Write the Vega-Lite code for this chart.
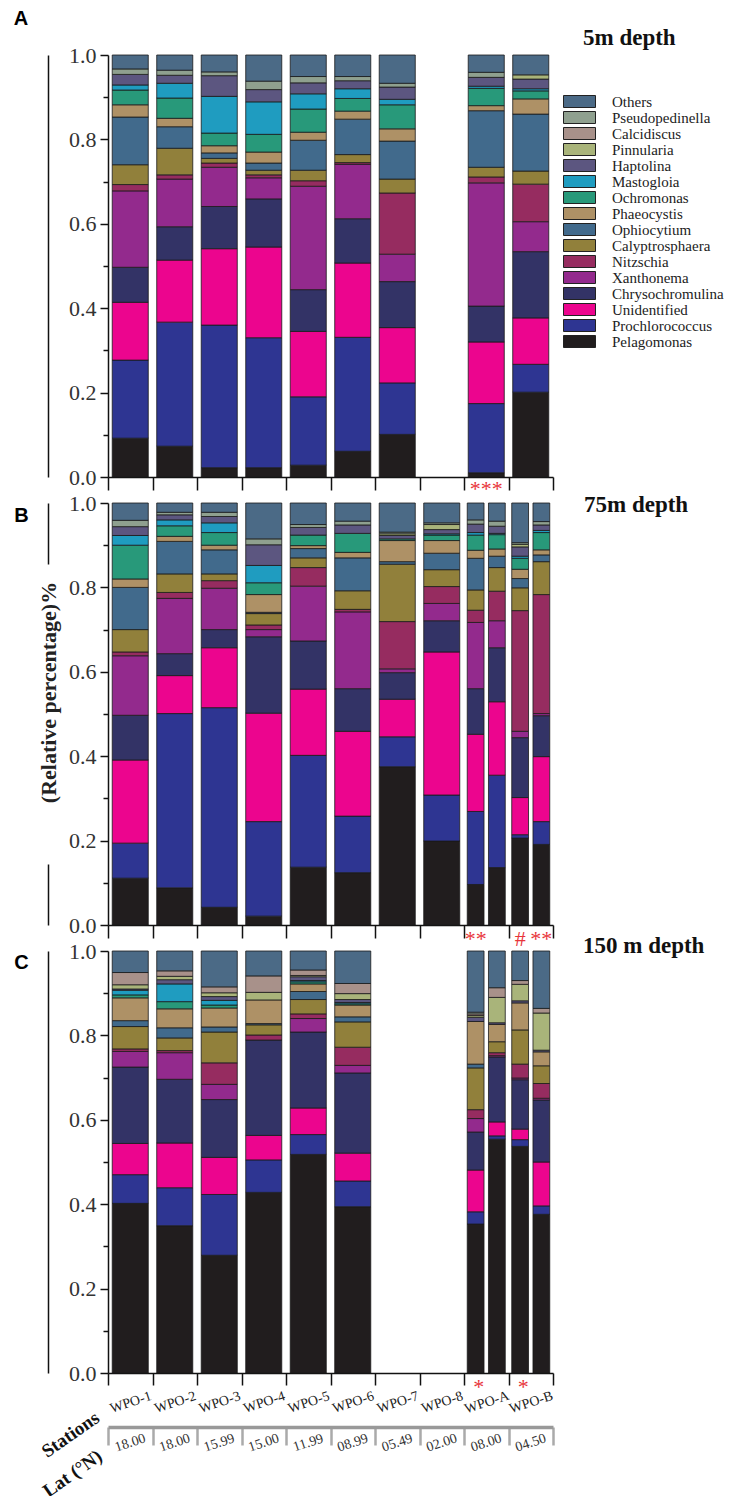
{
"$schema": "https://vega.github.io/schema/vega-lite/v6.json",
"background": "white",
"padding": {"left": 13, "top": 8, "right": 2, "bottom": 0},
"config": {"view": {"stroke": null}, "font": "Liberation Serif", "axis": {"grid": false}},
"spacing": 26,
"bounds": "flush",
"resolve": {"legend": {"color": "independent"}},
"datasets": {
"d5": [
{"station":"WPO-1","rep":0,"Pelagomonas":0.092,"Prochlorococcus":0.185,"Unidentified":0.137,"Chrysochromulina":0.083,"Xanthonema":0.181,"Nitzschia":0.015,"Calyptrosphaera":0.047,"Ophiocytium":0.113,"Phaeocystis":0.029,"Ochromonas":0.035,"Mastogloia":0.012,"Haptolina":0.025,"Pseudopedinella":0.013,"Others":0.033},
{"station":"WPO-2","rep":0,"Pelagomonas":0.073,"Prochlorococcus":0.294,"Unidentified":0.147,"Chrysochromulina":0.079,"Xanthonema":0.113,"Nitzschia":0.010,"Calyptrosphaera":0.063,"Ophiocytium":0.051,"Phaeocystis":0.020,"Ochromonas":0.048,"Mastogloia":0.035,"Haptolina":0.019,"Pseudopedinella":0.012,"Others":0.036},
{"station":"WPO-3","rep":0,"Pelagomonas":0.022,"Prochlorococcus":0.338,"Unidentified":0.181,"Chrysochromulina":0.100,"Xanthonema":0.093,"Nitzschia":0.010,"Calyptrosphaera":0.011,"Ophiocytium":0.013,"Phaeocystis":0.017,"Ochromonas":0.030,"Mastogloia":0.087,"Haptolina":0.049,"Pseudopedinella":0.009,"Others":0.040},
{"station":"WPO-4","rep":0,"Pelagomonas":0.022,"Prochlorococcus":0.308,"Unidentified":0.215,"Chrysochromulina":0.114,"Xanthonema":0.050,"Nitzschia":0.007,"Calyptrosphaera":0.011,"Ophiocytium":0.017,"Phaeocystis":0.026,"Ochromonas":0.042,"Mastogloia":0.077,"Haptolina":0.029,"Pseudopedinella":0.020,"Others":0.062},
{"station":"WPO-5","rep":0,"Pelagomonas":0.028,"Prochlorococcus":0.162,"Unidentified":0.155,"Chrysochromulina":0.099,"Xanthonema":0.245,"Nitzschia":0.013,"Calyptrosphaera":0.025,"Ophiocytium":0.071,"Phaeocystis":0.019,"Ochromonas":0.055,"Mastogloia":0.036,"Haptolina":0.026,"Pseudopedinella":0.015,"Others":0.051},
{"station":"WPO-6","rep":0,"Pelagomonas":0.061,"Prochlorococcus":0.270,"Unidentified":0.176,"Chrysochromulina":0.105,"Xanthonema":0.129,"Nitzschia":0.004,"Calyptrosphaera":0.019,"Ophiocytium":0.084,"Phaeocystis":0.019,"Ochromonas":0.030,"Mastogloia":0.023,"Haptolina":0.019,"Pseudopedinella":0.010,"Others":0.051},
{"station":"WPO-7","rep":0,"Pelagomonas":0.101,"Prochlorococcus":0.122,"Unidentified":0.131,"Chrysochromulina":0.109,"Xanthonema":0.065,"Nitzschia":0.145,"Calyptrosphaera":0.033,"Ophiocytium":0.090,"Phaeocystis":0.029,"Ochromonas":0.057,"Mastogloia":0.013,"Haptolina":0.029,"Pseudopedinella":0.009,"Others":0.067},
{"station":"WPO-A","rep":0,"Pelagomonas":0.010,"Prochlorococcus":0.164,"Unidentified":0.146,"Chrysochromulina":0.085,"Xanthonema":0.292,"Nitzschia":0.014,"Calyptrosphaera":0.023,"Ophiocytium":0.134,"Phaeocystis":0.012,"Ochromonas":0.041,"Mastogloia":0.005,"Haptolina":0.021,"Pseudopedinella":0.012,"Others":0.041},
{"station":"WPO-B","rep":0,"Pelagomonas":0.201,"Prochlorococcus":0.066,"Unidentified":0.110,"Chrysochromulina":0.157,"Xanthonema":0.071,"Nitzschia":0.089,"Calyptrosphaera":0.031,"Ophiocytium":0.135,"Phaeocystis":0.036,"Ochromonas":0.019,"Mastogloia":0.005,"Haptolina":0.023,"Pinnularia":0.010,"Others":0.047}
],
"d75": [
{"station":"WPO-1","rep":0,"Pelagomonas":0.111,"Prochlorococcus":0.083,"Unidentified":0.197,"Chrysochromulina":0.106,"Xanthonema":0.141,"Nitzschia":0.009,"Calyptrosphaera":0.053,"Ophiocytium":0.100,"Phaeocystis":0.020,"Ochromonas":0.080,"Mastogloia":0.023,"Haptolina":0.021,"Pseudopedinella":0.015,"Others":0.041},
{"station":"WPO-2","rep":0,"Pelagomonas":0.088,"Prochlorococcus":0.413,"Unidentified":0.090,"Chrysochromulina":0.052,"Xanthonema":0.131,"Nitzschia":0.014,"Calyptrosphaera":0.044,"Ophiocytium":0.077,"Phaeocystis":0.012,"Ochromonas":0.025,"Mastogloia":0.014,"Haptolina":0.012,"Pseudopedinella":0.006,"Others":0.022},
{"station":"WPO-3","rep":0,"Pelagomonas":0.042,"Prochlorococcus":0.473,"Unidentified":0.142,"Chrysochromulina":0.043,"Xanthonema":0.098,"Nitzschia":0.018,"Calyptrosphaera":0.016,"Ophiocytium":0.057,"Phaeocystis":0.011,"Ochromonas":0.030,"Mastogloia":0.023,"Haptolina":0.015,"Pseudopedinella":0.010,"Others":0.022},
{"station":"WPO-4","rep":0,"Pelagomonas":0.021,"Prochlorococcus":0.224,"Unidentified":0.257,"Chrysochromulina":0.181,"Xanthonema":0.017,"Nitzschia":0.011,"Calyptrosphaera":0.027,"Ophiocytium":0.003,"Phaeocystis":0.042,"Ochromonas":0.028,"Mastogloia":0.041,"Haptolina":0.049,"Pseudopedinella":0.014,"Others":0.085},
{"station":"WPO-5","rep":0,"Pelagomonas":0.137,"Prochlorococcus":0.265,"Unidentified":0.157,"Chrysochromulina":0.114,"Xanthonema":0.130,"Nitzschia":0.044,"Calyptrosphaera":0.023,"Ophiocytium":0.022,"Phaeocystis":0.007,"Ochromonas":0.025,"Haptolina":0.018,"Pseudopedinella":0.007,"Others":0.051},
{"station":"WPO-6","rep":0,"Pelagomonas":0.124,"Prochlorococcus":0.134,"Unidentified":0.201,"Chrysochromulina":0.101,"Xanthonema":0.182,"Nitzschia":0.006,"Calyptrosphaera":0.044,"Ophiocytium":0.078,"Phaeocystis":0.013,"Ochromonas":0.045,"Haptolina":0.020,"Pseudopedinella":0.009,"Others":0.043},
{"station":"WPO-7","rep":0,"Pelagomonas":0.375,"Prochlorococcus":0.071,"Unidentified":0.089,"Chrysochromulina":0.063,"Xanthonema":0.009,"Nitzschia":0.112,"Calyptrosphaera":0.136,"Ophiocytium":0.006,"Phaeocystis":0.050,"Ochromonas":0.004,"Haptolina":0.008,"Pinnularia":0.004,"Pseudopedinella":0.004,"Others":0.069},
{"station":"WPO-8","rep":0,"Pelagomonas":0.199,"Prochlorococcus":0.109,"Unidentified":0.339,"Chrysochromulina":0.074,"Xanthonema":0.041,"Nitzschia":0.040,"Calyptrosphaera":0.040,"Ophiocytium":0.039,"Phaeocystis":0.030,"Ochromonas":0.013,"Mastogloia":0.003,"Haptolina":0.010,"Pinnularia":0.012,"Pseudopedinella":0.004,"Others":0.047},
{"station":"WPO-A","rep":1,"Pelagomonas":0.096,"Prochlorococcus":0.173,"Unidentified":0.183,"Chrysochromulina":0.108,"Xanthonema":0.157,"Nitzschia":0.029,"Calyptrosphaera":0.048,"Ophiocytium":0.075,"Phaeocystis":0.019,"Ochromonas":0.036,"Mastogloia":0.006,"Haptolina":0.020,"Pseudopedinella":0.010,"Others":0.040},
{"station":"WPO-A","rep":2,"Pelagomonas":0.136,"Prochlorococcus":0.219,"Unidentified":0.174,"Chrysochromulina":0.128,"Xanthonema":0.064,"Nitzschia":0.070,"Calyptrosphaera":0.056,"Ophiocytium":0.027,"Phaeocystis":0.017,"Ochromonas":0.034,"Mastogloia":0.003,"Haptolina":0.017,"Pseudopedinella":0.012,"Others":0.043},
{"station":"WPO-B","rep":1,"Pelagomonas":0.206,"Prochlorococcus":0.008,"Unidentified":0.088,"Chrysochromulina":0.142,"Xanthonema":0.015,"Nitzschia":0.286,"Calyptrosphaera":0.054,"Ophiocytium":0.022,"Phaeocystis":0.022,"Ochromonas":0.026,"Mastogloia":0.005,"Haptolina":0.022,"Pinnularia":0.006,"Pseudopedinella":0.004,"Others":0.094},
{"station":"WPO-B","rep":2,"Pelagomonas":0.191,"Prochlorococcus":0.054,"Unidentified":0.154,"Chrysochromulina":0.097,"Xanthonema":0.005,"Nitzschia":0.282,"Calyptrosphaera":0.078,"Ophiocytium":0.016,"Phaeocystis":0.012,"Ochromonas":0.041,"Mastogloia":0.005,"Haptolina":0.013,"Pseudopedinella":0.008,"Others":0.044}
],
"d150": [
{"station":"WPO-1","rep":0,"Pelagomonas":0.402,"Prochlorococcus":0.068,"Unidentified":0.074,"Chrysochromulina":0.181,"Xanthonema":0.037,"Nitzschia":0.006,"Calyptrosphaera":0.053,"Ophiocytium":0.014,"Phaeocystis":0.054,"Ochromonas":0.007,"Mastogloia":0.011,"Haptolina":0.003,"Pinnularia":0.010,"Calcidiscus":0.029,"Others":0.051},
{"station":"WPO-2","rep":0,"Pelagomonas":0.349,"Prochlorococcus":0.090,"Unidentified":0.106,"Chrysochromulina":0.151,"Xanthonema":0.063,"Nitzschia":0.005,"Calyptrosphaera":0.030,"Ophiocytium":0.024,"Phaeocystis":0.045,"Ochromonas":0.017,"Mastogloia":0.042,"Haptolina":0.010,"Pinnularia":0.008,"Calcidiscus":0.013,"Others":0.047},
{"station":"WPO-3","rep":0,"Pelagomonas":0.279,"Prochlorococcus":0.144,"Unidentified":0.088,"Chrysochromulina":0.137,"Xanthonema":0.036,"Nitzschia":0.051,"Calyptrosphaera":0.073,"Ophiocytium":0.012,"Phaeocystis":0.045,"Ochromonas":0.007,"Mastogloia":0.011,"Haptolina":0.009,"Pinnularia":0.009,"Calcidiscus":0.014,"Others":0.085},
{"station":"WPO-4","rep":0,"Pelagomonas":0.428,"Prochlorococcus":0.077,"Unidentified":0.058,"Chrysochromulina":0.226,"Nitzschia":0.012,"Calyptrosphaera":0.024,"Ophiocytium":0.003,"Phaeocystis":0.056,"Pinnularia":0.018,"Calcidiscus":0.039,"Others":0.059},
{"station":"WPO-5","rep":0,"Pelagomonas":0.518,"Prochlorococcus":0.047,"Unidentified":0.063,"Chrysochromulina":0.180,"Xanthonema":0.032,"Nitzschia":0.011,"Calyptrosphaera":0.034,"Ophiocytium":0.019,"Phaeocystis":0.018,"Ochromonas":0.005,"Mastogloia":0.003,"Haptolina":0.009,"Pinnularia":0.003,"Calcidiscus":0.013,"Others":0.045},
{"station":"WPO-6","rep":0,"Pelagomonas":0.394,"Prochlorococcus":0.061,"Unidentified":0.066,"Chrysochromulina":0.190,"Xanthonema":0.018,"Nitzschia":0.043,"Calyptrosphaera":0.060,"Ophiocytium":0.012,"Phaeocystis":0.028,"Ochromonas":0.003,"Mastogloia":0.003,"Haptolina":0.007,"Pinnularia":0.014,"Calcidiscus":0.024,"Others":0.077},
{"station":"WPO-A","rep":1,"Pelagomonas":0.353,"Prochlorococcus":0.029,"Unidentified":0.099,"Chrysochromulina":0.090,"Xanthonema":0.032,"Nitzschia":0.021,"Calyptrosphaera":0.099,"Ophiocytium":0.009,"Phaeocystis":0.101,"Haptolina":0.010,"Pinnularia":0.004,"Calcidiscus":0.004,"Pseudopedinella":0.004,"Others":0.145},
{"station":"WPO-A","rep":2,"Pelagomonas":0.554,"Prochlorococcus":0.008,"Unidentified":0.033,"Chrysochromulina":0.154,"Xanthonema":0.003,"Nitzschia":0.007,"Calyptrosphaera":0.026,"Phaeocystis":0.041,"Haptolina":0.004,"Pinnularia":0.060,"Calcidiscus":0.023,"Others":0.087},
{"station":"WPO-B","rep":1,"Pelagomonas":0.537,"Prochlorococcus":0.016,"Unidentified":0.025,"Chrysochromulina":0.117,"Xanthonema":0.004,"Nitzschia":0.033,"Calyptrosphaera":0.081,"Phaeocystis":0.064,"Haptolina":0.005,"Pinnularia":0.039,"Calcidiscus":0.009,"Others":0.070},
{"station":"WPO-B","rep":2,"Pelagomonas":0.376,"Prochlorococcus":0.020,"Unidentified":0.104,"Chrysochromulina":0.147,"Xanthonema":0.004,"Nitzschia":0.035,"Calyptrosphaera":0.042,"Phaeocystis":0.033,"Haptolina":0.004,"Pinnularia":0.088,"Calcidiscus":0.011,"Others":0.136}
]
},
"vconcat": [
{
"width": 445, "height": 422,
"title": {"text": "5m depth", "anchor": "start", "frame": "group", "dx": 475, "dy": 41.5, "offset": 0, "font": "Liberation Serif", "fontSize": 23, "fontWeight": "bold", "color": "#111"},
"layer": [
{
"data": {"name": "d5"},
"transform": [
{"fold": ["Pelagomonas","Prochlorococcus","Unidentified","Chrysochromulina","Xanthonema","Nitzschia","Calyptrosphaera","Ophiocytium","Phaeocystis","Ochromonas","Mastogloia","Haptolina","Pinnularia","Calcidiscus","Pseudopedinella","Others"], "as": ["taxon","value"]},
{"filter": "datum.value > 0"},
{"window": [{"op": "row_number", "as": "layer"}], "groupby": ["station", "rep"]}
],
"mark": {"type": "bar", "stroke": "#1a1a1a", "strokeWidth": 0.8, "width": {"band": 0.81}},
"encoding": {
"x": {"field": "station", "type": "nominal", "scale": {"domain": ["WPO-1","WPO-2","WPO-3","WPO-4","WPO-5","WPO-6","WPO-7","WPO-8","WPO-A","WPO-B"], "paddingInner": 0, "paddingOuter": 0},
 "axis": {"title": null, "labels": false, "tickBand": "extent", "tickSize": 13, "tickWidth": 1.5, "tickColor": "#111", "domainColor": "#111", "domainWidth": 1.5}},
"y": {"field": "value", "type": "quantitative", "stack": "zero", "scale": {"domain": [0, 1], "nice": false},
 "axis": {"values": [0,0.1,0.2,0.3,0.4,0.5,0.6,0.7,0.8,0.9,1], "labelExpr": "round(datum.value*10) % 2 == 0 ? format(datum.value, '.1f') : ''", "labelFont": "Liberation Serif", "labelFontSize": 22, "labelColor": "#333", "labelPadding": 4, "tickSize": {"condition": {"test": "round(datum.value*10) % 2 == 0", "value": 8}, "value": 5}, "tickWidth": 1.5, "tickColor": "#111", "domainColor": "#111", "domainWidth": 1.5,
  "title": "A", "titleFont": "Liberation Sans", "titleFontSize": 20, "titleFontWeight": "bold", "titleColor": "#000", "titleAngle": 0, "titleAlign": "center", "titleBaseline": "alphabetic", "titleX": -87.5, "titleY": -30.5}},
"order": {"field": "layer", "type": "quantitative"},
"color": {"field": "taxon", "type": "nominal",
 "scale": {"domain": ["Others","Pseudopedinella","Calcidiscus","Pinnularia","Haptolina","Mastogloia","Ochromonas","Phaeocystis","Ophiocytium","Calyptrosphaera","Nitzschia","Xanthonema","Chrysochromulina","Unidentified","Prochlorococcus","Pelagomonas"],
  "range": ["#4b6a86","#8fa08f","#a8918a","#a9b47a","#5c5680","#1f9cc0","#28997a","#ae9166","#416a8c","#91803b","#962c60","#932a8d","#333366","#ec058e","#2e3592","#211d1e"]},
 "legend": {"orient": "none", "legendX": 464, "legendY": 39, "title": null, "symbolType": "M-3.2,-1.2H3.2V1.2H-3.2Z", "symbolSize": 100, "symbolStrokeColor": "#222", "symbolStrokeWidth": 1, "symbolOpacity": 1, "labelFont": "Liberation Serif", "labelFontSize": 15, "labelColor": "#222", "labelOffset": 25, "rowPadding": -4, "labelLimit": 300}}
}
},
{
"data": {"values": [{"station": "WPO-A", "note": "***"}]},
"mark": {"type": "text", "color": "#e8343a", "font": "Liberation Serif", "fontSize": 22, "baseline": "top", "align": "center", "dy": 2},
"encoding": {
"x": {"field": "station", "type": "nominal", "axis": null},
"y": {"datum": 0, "type": "quantitative", "axis": {"orient": "left", "offset": 60, "domain": true, "domainColor": "#111", "domainWidth": 1.5, "ticks": false, "labels": false, "title": null}},
"text": {"field": "note"}
}
}
],
"resolve": {"axis": {"x": "independent", "y": "independent"}}
},
{
"width": 445, "height": 422,
"title": {"text": "75m depth", "anchor": "start", "frame": "group", "dx": 476, "dy": 25, "offset": 0, "font": "Liberation Serif", "fontSize": 23, "fontWeight": "bold", "color": "#111"},
"layer": [
{
"data": {"name": "d75"},
"transform": [
{"fold": ["Pelagomonas","Prochlorococcus","Unidentified","Chrysochromulina","Xanthonema","Nitzschia","Calyptrosphaera","Ophiocytium","Phaeocystis","Ochromonas","Mastogloia","Haptolina","Pinnularia","Calcidiscus","Pseudopedinella","Others"], "as": ["taxon","value"]},
{"filter": "datum.value > 0"},
{"filter": "datum.rep == 0"},
{"window": [{"op": "row_number", "as": "layer"}], "groupby": ["station", "rep"]}
],
"mark": {"type": "bar", "stroke": "#1a1a1a", "strokeWidth": 0.8, "width": {"band": 0.81}},
"encoding": {
"x": {"field": "station", "type": "nominal", "scale": {"domain": ["WPO-1","WPO-2","WPO-3","WPO-4","WPO-5","WPO-6","WPO-7","WPO-8","WPO-A","WPO-B"], "paddingInner": 0, "paddingOuter": 0},
 "axis": {"title": null, "labels": false, "tickBand": "extent", "tickSize": 13, "tickWidth": 1.5, "tickColor": "#111", "domainColor": "#111", "domainWidth": 1.5}},
"y": {"field": "value", "type": "quantitative", "stack": "zero", "scale": {"domain": [0, 1], "nice": false},
 "axis": {"values": [0,0.1,0.2,0.3,0.4,0.5,0.6,0.7,0.8,0.9,1], "labelExpr": "round(datum.value*10) % 2 == 0 ? format(datum.value, '.1f') : ''", "labelFont": "Liberation Serif", "labelFontSize": 22, "labelColor": "#333", "labelPadding": 4, "tickSize": {"condition": {"test": "round(datum.value*10) % 2 == 0", "value": 8}, "value": 5}, "tickWidth": 1.5, "tickColor": "#111", "domainColor": "#111", "domainWidth": 1.5,
  "title": "B", "titleFont": "Liberation Sans", "titleFontSize": 20, "titleFontWeight": "bold", "titleColor": "#000", "titleAngle": 0, "titleAlign": "center", "titleBaseline": "alphabetic", "titleX": -87, "titleY": 18}},
"order": {"field": "layer", "type": "quantitative"},
"color": {"field": "taxon", "type": "nominal",
 "scale": {"domain": ["Others","Pseudopedinella","Calcidiscus","Pinnularia","Haptolina","Mastogloia","Ochromonas","Phaeocystis","Ophiocytium","Calyptrosphaera","Nitzschia","Xanthonema","Chrysochromulina","Unidentified","Prochlorococcus","Pelagomonas"],
  "range": ["#4b6a86","#8fa08f","#a8918a","#a9b47a","#5c5680","#1f9cc0","#28997a","#ae9166","#416a8c","#91803b","#962c60","#932a8d","#333366","#ec058e","#2e3592","#211d1e"]},
 "legend": null}
}
},
{
"data": {"name": "d75"},
"transform": [
{"fold": ["Pelagomonas","Prochlorococcus","Unidentified","Chrysochromulina","Xanthonema","Nitzschia","Calyptrosphaera","Ophiocytium","Phaeocystis","Ochromonas","Mastogloia","Haptolina","Pinnularia","Calcidiscus","Pseudopedinella","Others"], "as": ["taxon","value"]},
{"filter": "datum.value > 0"},
{"filter": "datum.rep > 0"},
{"window": [{"op": "row_number", "as": "layer"}], "groupby": ["station", "rep"]}
],
"mark": {"type": "bar", "stroke": "#1a1a1a", "strokeWidth": 0.8},
"encoding": {
"x": {"field": "station", "type": "nominal", "axis": null},
"xOffset": {"field": "rep", "type": "nominal", "scale": {"domain": [1, 2], "paddingInner": 0.21, "paddingOuter": 0.153}},
"y": {"field": "value", "type": "quantitative", "stack": "zero", "axis": null},
"order": {"field": "layer", "type": "quantitative"},
"color": {"field": "taxon", "type": "nominal", "legend": null}
}
},
{
"data": {"values": [{"station": "WPO-A", "rep": 1, "note": "**"}, {"station": "WPO-B", "rep": 1, "note": "#"}, {"station": "WPO-B", "rep": 2, "note": "**"}]},
"mark": {"type": "text", "color": "#e8343a", "font": "Liberation Serif", "fontSize": 22, "baseline": "top", "align": "center", "dy": 4},
"encoding": {
"x": {"field": "station", "type": "nominal", "axis": null},
"xOffset": {"field": "rep", "type": "nominal"},
"y": {"datum": 0, "type": "quantitative", "axis": {"orient": "left", "offset": 60, "domain": true, "domainColor": "#111", "domainWidth": 1.5, "domainDash": [61, 300], "ticks": false, "labels": false,
  "title": "(Relative percentage)%", "titleFont": "Liberation Serif", "titleFontSize": 22, "titleFontWeight": "bold", "titleColor": "#222", "titleAngle": 270, "titleAlign": "center", "titleBaseline": "middle", "titleX": 0, "titleY": 189}},
"text": {"field": "note"}
}
}
],
"resolve": {"axis": {"x": "independent", "y": "independent"}}
},
{
"width": 445, "height": 422,
"title": {"text": "150 m depth", "anchor": "start", "frame": "group", "dx": 475, "dy": 18, "offset": 0, "font": "Liberation Serif", "fontSize": 23, "fontWeight": "bold", "color": "#111"},
"layer": [
{
"data": {"name": "d150"},
"transform": [
{"fold": ["Pelagomonas","Prochlorococcus","Unidentified","Chrysochromulina","Xanthonema","Nitzschia","Calyptrosphaera","Ophiocytium","Phaeocystis","Ochromonas","Mastogloia","Haptolina","Pinnularia","Calcidiscus","Pseudopedinella","Others"], "as": ["taxon","value"]},
{"filter": "datum.value > 0"},
{"filter": "datum.rep == 0"},
{"window": [{"op": "row_number", "as": "layer"}], "groupby": ["station", "rep"]}
],
"mark": {"type": "bar", "stroke": "#1a1a1a", "strokeWidth": 0.8, "width": {"band": 0.81}},
"encoding": {
"x": {"field": "station", "type": "nominal", "scale": {"domain": ["WPO-1","WPO-2","WPO-3","WPO-4","WPO-5","WPO-6","WPO-7","WPO-8","WPO-A","WPO-B"], "paddingInner": 0, "paddingOuter": 0},
 "axis": {"title": "Stations", "titleFont": "Liberation Serif", "titleFontSize": 19, "titleFontWeight": "bold", "titleColor": "#111", "titleAngle": 325, "titleAlign": "center", "titleBaseline": "middle", "titleX": -38, "titleY": 61,
  "labelAngle": -18, "labelAlign": "center", "labelBaseline": "middle", "labelPadding": 17, "labelFont": "Liberation Serif", "labelFontSize": 14, "labelColor": "#222",
  "tickBand": "extent", "tickSize": 12, "tickWidth": 1.5, "tickColor": "#111", "domainColor": "#111", "domainWidth": 1.5}},
"y": {"field": "value", "type": "quantitative", "stack": "zero", "scale": {"domain": [0, 1], "nice": false},
 "axis": {"values": [0,0.1,0.2,0.3,0.4,0.5,0.6,0.7,0.8,0.9,1], "labelExpr": "round(datum.value*10) % 2 == 0 ? format(datum.value, '.1f') : ''", "labelFont": "Liberation Serif", "labelFontSize": 22, "labelColor": "#333", "labelPadding": 4, "tickSize": {"condition": {"test": "round(datum.value*10) % 2 == 0", "value": 8}, "value": 5}, "tickWidth": 1.5, "tickColor": "#111", "domainColor": "#111", "domainWidth": 1.5,
  "title": "C", "titleFont": "Liberation Sans", "titleFontSize": 20, "titleFontWeight": "bold", "titleColor": "#000", "titleAngle": 0, "titleAlign": "center", "titleBaseline": "alphabetic", "titleX": -87, "titleY": 17}},
"order": {"field": "layer", "type": "quantitative"},
"color": {"field": "taxon", "type": "nominal",
 "scale": {"domain": ["Others","Pseudopedinella","Calcidiscus","Pinnularia","Haptolina","Mastogloia","Ochromonas","Phaeocystis","Ophiocytium","Calyptrosphaera","Nitzschia","Xanthonema","Chrysochromulina","Unidentified","Prochlorococcus","Pelagomonas"],
  "range": ["#4b6a86","#8fa08f","#a8918a","#a9b47a","#5c5680","#1f9cc0","#28997a","#ae9166","#416a8c","#91803b","#962c60","#932a8d","#333366","#ec058e","#2e3592","#211d1e"]},
 "legend": null}
}
},
{
"data": {"name": "d150"},
"transform": [
{"fold": ["Pelagomonas","Prochlorococcus","Unidentified","Chrysochromulina","Xanthonema","Nitzschia","Calyptrosphaera","Ophiocytium","Phaeocystis","Ochromonas","Mastogloia","Haptolina","Pinnularia","Calcidiscus","Pseudopedinella","Others"], "as": ["taxon","value"]},
{"filter": "datum.value > 0"},
{"filter": "datum.rep > 0"},
{"window": [{"op": "row_number", "as": "layer"}], "groupby": ["station", "rep"]}
],
"mark": {"type": "bar", "stroke": "#1a1a1a", "strokeWidth": 0.8},
"encoding": {
"x": {"field": "station", "type": "nominal",
 "axis": {"orient": "bottom", "offset": 54, "labels": false, "tickBand": "extent", "tickSize": 18, "tickWidth": 2.5, "tickColor": "#aaa", "domainColor": "#999", "domainWidth": 3.5,
  "title": "Lat (°N)", "titleFont": "Liberation Serif", "titleFontSize": 19, "titleFontWeight": "bold", "titleColor": "#111", "titleAngle": 325, "titleAlign": "center", "titleBaseline": "middle", "titleX": -36, "titleY": 46}},
"xOffset": {"field": "rep", "type": "nominal", "scale": {"domain": [1, 2], "paddingInner": 0.21, "paddingOuter": 0.153}},
"y": {"field": "value", "type": "quantitative", "stack": "zero",
 "axis": {"orient": "left", "offset": 60, "domain": true, "domainColor": "#111", "domainWidth": 1.5, "ticks": false, "labels": false, "title": null}},
"order": {"field": "layer", "type": "quantitative"},
"color": {"field": "taxon", "type": "nominal", "legend": null}
}
},
{
"data": {"values": [{"station": "WPO-A", "rep": 1, "note": "*"}, {"station": "WPO-B", "rep": 1, "note": "*"}]},
"mark": {"type": "text", "color": "#e8343a", "font": "Liberation Serif", "fontSize": 22, "baseline": "top", "align": "center", "dy": 4, "dx": 3},
"encoding": {
"x": {"field": "station", "type": "nominal", "axis": null},
"xOffset": {"field": "rep", "type": "nominal"},
"y": {"datum": 0, "type": "quantitative", "axis": null},
"text": {"field": "note"}
}
},
{
"data": {"values": [{"station": "WPO-1", "lat": "18.00"}, {"station": "WPO-2", "lat": "18.00"}, {"station": "WPO-3", "lat": "15.99"}, {"station": "WPO-4", "lat": "15.00"}, {"station": "WPO-5", "lat": "11.99"}, {"station": "WPO-6", "lat": "08.99"}, {"station": "WPO-7", "lat": "05.49"}, {"station": "WPO-8", "lat": "02.00"}, {"station": "WPO-A", "lat": "08.00"}, {"station": "WPO-B", "lat": "04.50"}]},
"mark": {"type": "text", "angle": 342, "radius": 70, "theta": 3.14159, "align": "center", "baseline": "middle", "font": "Liberation Serif", "fontSize": 14, "color": "#333"},
"encoding": {
"x": {"field": "station", "type": "nominal", "axis": null},
"y": {"datum": 0, "type": "quantitative", "axis": null},
"text": {"field": "lat"}
}
}
],
"resolve": {"axis": {"x": "independent", "y": "independent"}}
}
]
}
